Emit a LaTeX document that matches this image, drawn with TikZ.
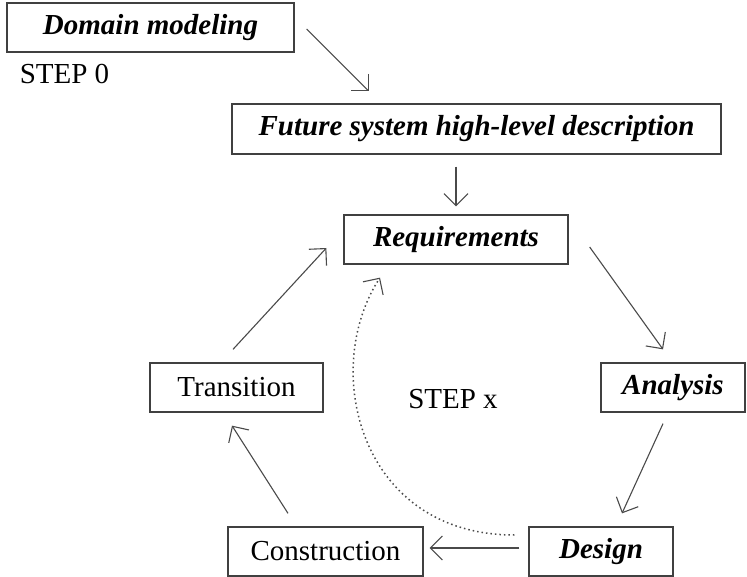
\documentclass[tikz,border=0pt]{standalone}
\usepackage{fontspec}
\setmainfont{Liberation Serif}
\usetikzlibrary{arrows.meta}
\definecolor{boxline}{HTML}{404040}
\definecolor{arrline}{HTML}{4A4A4A}
\tikzset{
  stagebox/.style={draw=boxline, line width=1.3pt, inner sep=0pt, font=\fontsize{29}{34}\selectfont},
  emph/.style={font=\fontsize{29}{34}\selectfont\bfseries\itshape},
  plainlabel/.style={inner sep=0pt, font=\fontsize{29}{34}\selectfont},
  flow/.style={draw=arrline, line width=1.1pt, -{Straight Barb[length=12pt,width=24pt,line width=1.1pt]}},
  backflow/.style={draw=arrline, line width=1.5pt, dash pattern=on 1.5pt off 3pt, -{Straight Barb[length=12pt,width=24pt,line width=1.1pt]}}
}
\begin{document}
\begin{tikzpicture}[x=1pt,y=-1pt]
\useasboundingbox (0,0) rectangle (747,577);
\node[stagebox, emph, minimum width=287pt, minimum height=49pt] (dom) at (150.5,27.5) {Domain modeling};
\node[plainlabel] (step0) at (64.5,74) {STEP 0};
\node[stagebox, emph, minimum width=489pt, minimum height=50pt] (fut) at (476.5,129) {Future system high-level description};
\node[stagebox, emph, minimum width=224pt, minimum height=49pt] (req) at (456,239.5) {Requirements};
\node[stagebox, emph, minimum width=144pt, minimum height=49pt] (ana) at (673,387.5) {Analysis};
\node[stagebox, emph, minimum width=144pt, minimum height=49pt] (des) at (601,551.5) {Design};
\node[stagebox, minimum width=195pt, minimum height=49pt] (con) at (325.5,551.5) {Construction};
\node[stagebox, minimum width=173pt, minimum height=49pt] (tra) at (236.5,387.5) {Transition};
\node[plainlabel] (stepx) at (453,399) {STEP x};

\draw[flow] ([shift={(12,1.5)}]dom.east) -- ([shift={(-107.5,-12)}]fut.north);
\draw[flow] ([shift={(-20.5,12)}]fut.south) -- ([shift={(0,-8)}]req.north);
\draw[flow] ([shift={(21,7.5)}]req.east) -- ([shift={(-10,-13)}]ana.north);
\draw[flow] ([shift={(-10,11)}]ana.south) -- ([shift={(21,-13)}]des.north);
\draw[flow] ([shift={(-9,-3.5)}]des.west) -- ([shift={(6,-3.5)}]con.east);
\draw[flow] ([shift={(-37.5,-13)}]con.north) -- ([shift={(-4.5,13)}]tra.south);
\draw[flow] ([shift={(-3.5,-13)}]tra.north) -- ([shift={(-17,8.5)}]req.west);
\draw[backflow] ([shift={(-14,-16.5)}]des.west) .. controls (360,535) and (320,370) .. ([shift={(-76,13)}]req.south);
\end{tikzpicture}
\end{document}
